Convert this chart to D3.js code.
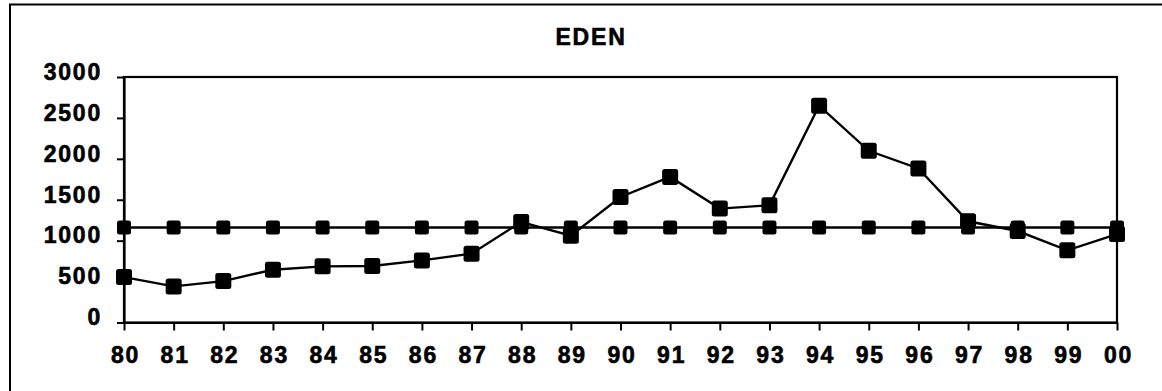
<!DOCTYPE html>
<html>
<head>
<meta charset="utf-8">
<script src="https://cdn.jsdelivr.net/npm/d3@7"></script>
<style>
  html, body { margin: 0; padding: 0; background: #fff; }
  svg { display: block; }
  text { font-family: "Liberation Sans", Arial, sans-serif; font-weight: bold; fill: #000; }
</style>
</head>
<body>
<svg id="chart" width="1162" height="391"></svg>
<script>
// Year labels along the x axis
const years = ["80","81","82","83","84","85","86","87","88","89","90",
               "91","92","93","94","95","96","97","98","99","00"];
// Annual values
const annual = [555, 441, 506, 645, 686, 690, 759, 841, 1228, 1060, 1534,
                1779, 1392, 1433, 2649, 2098, 1882, 1237, 1118, 882, 1080];
// Long-term average level
const average = [1160, 1160, 1160, 1160, 1160, 1160, 1160, 1160, 1160, 1160, 1160,
                 1160, 1160, 1160, 1160, 1160, 1160, 1160, 1160, 1160, 1160];
const yTicks = [0, 500, 1000, 1500, 2000, 2500, 3000];
const title = "EDEN";

const svg = d3.select("#chart");
const plot = { left: 124, right: 1117, top: 77, bottom: 322.5 };

const x = d3.scalePoint().domain(years).range([plot.left, plot.right]);
const y = d3.scaleLinear().domain([0, 3000]).range([plot.bottom, plot.top]);

const labelStyle = sel => sel
  .attr("font-size", 23)
  .attr("letter-spacing", 1.8)
  .attr("stroke", "#000").attr("stroke-width", 0.6)
  .attr("font-family", "Liberation Sans, Arial, sans-serif")
  .attr("font-weight", "bold");

// Outer frame (top and left edges)
svg.append("path")
  .attr("d", "M10,391 L10,4.5 L1162,4.5")
  .attr("fill", "none").attr("stroke", "#000").attr("stroke-width", 2);

// Title
svg.append("text")
  .attr("x", 591).attr("y", 45)
  .attr("text-anchor", "middle")
  .text(title)
  .call(labelStyle);

// Plot frame
svg.append("rect")
  .attr("x", plot.left).attr("y", plot.top)
  .attr("width", plot.right - plot.left).attr("height", plot.bottom - plot.top)
  .attr("fill", "none").attr("stroke", "#000").attr("stroke-width", 2.2);

// Y axis
const yAxis = svg.append("g")
  .attr("transform", `translate(${plot.left},0)`)
  .call(d3.axisLeft(y).tickValues(yTicks).tickFormat(d3.format("d"))
    .tickSize(7).tickSizeOuter(0).tickPadding(15));
yAxis.select(".domain").attr("stroke-width", 2.2);
yAxis.selectAll(".tick line").attr("stroke-width", 2);
yAxis.selectAll(".tick text").attr("dy", "0.1em").call(labelStyle);

// X axis
const xAxis = svg.append("g")
  .attr("transform", `translate(0,${plot.bottom})`)
  .call(d3.axisBottom(x).tickSize(8).tickSizeOuter(0).tickPadding(16));
xAxis.select(".domain").attr("stroke-width", 2.2);
xAxis.selectAll(".tick line").attr("stroke-width", 2);
xAxis.selectAll(".tick text").attr("dx", 1).call(labelStyle);

const line = d3.line().x((d, i) => x(years[i])).y(d => y(d));

function drawSeries(values, size) {
  svg.append("path")
    .datum(values)
    .attr("d", line)
    .attr("fill", "none").attr("stroke", "#000").attr("stroke-width", 2.4);
  svg.append("g").selectAll("rect")
    .data(values)
    .join("rect")
    .attr("x", (d, i) => x(years[i]) - size / 2)
    .attr("y", d => y(d) - size / 2)
    .attr("width", size).attr("height", size)
    .attr("rx", 2.5)
    .attr("fill", "#000");
}

drawSeries(average, 14);
drawSeries(annual, 16);
</script>
</body>
</html>
